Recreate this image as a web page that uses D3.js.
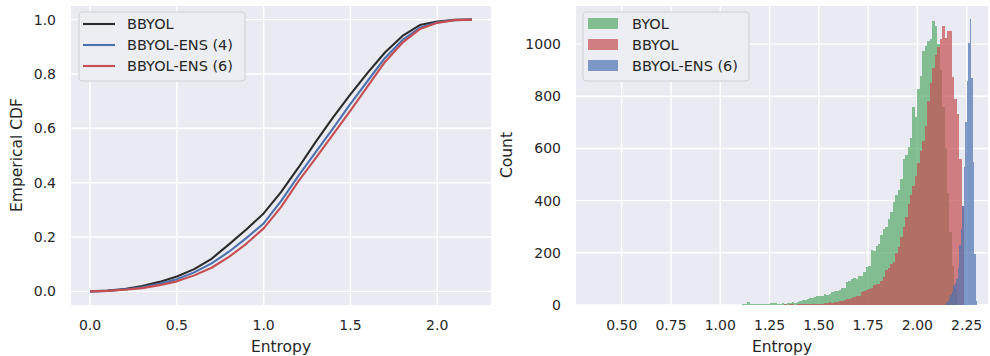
<!DOCTYPE html>
<html>
<head>
<meta charset="utf-8">
<script src="https://cdn.jsdelivr.net/npm/d3@7"></script>
<style>
  body { margin: 0; background: #fff; }
  text { font-family: "DejaVu Sans", sans-serif; fill: #262626; }
</style>
</head>
<body>
<div id="chart"></div>
<script>
const width = 990;
const height = 356;

// ---- CDF panel data ----
const cdfEntropy = [0, 0.1, 0.2, 0.3, 0.4, 0.5, 0.6, 0.7, 0.8, 0.9, 1.0, 1.1,
  1.2, 1.3, 1.4, 1.5, 1.6, 1.7, 1.8, 1.9, 2.0, 2.1, 2.2];
const cdfBBYOL = [0, 0.003, 0.009, 0.02, 0.035, 0.055, 0.082, 0.12, 0.173, 0.228,
  0.287, 0.365, 0.455, 0.55, 0.64, 0.725, 0.805, 0.88, 0.94, 0.98, 0.993, 0.999, 1.0];
const cdfEns4 = [0, 0.002, 0.007, 0.015, 0.028, 0.045, 0.07, 0.103, 0.146, 0.196,
  0.25, 0.332, 0.425, 0.512, 0.6, 0.69, 0.775, 0.86, 0.925, 0.97, 0.99, 0.998, 1.0];
const cdfEns6 = [0, 0.002, 0.006, 0.012, 0.023, 0.037, 0.059, 0.087, 0.127, 0.175,
  0.232, 0.31, 0.405, 0.49, 0.578, 0.665, 0.755, 0.845, 0.915, 0.965, 0.988, 0.998, 1.0];
const cdfNames = ['BBYOL', 'BBYOL-ENS (4)', 'BBYOL-ENS (6)'];
const cdfTicksX = [0.0, 0.5, 1.0, 1.5, 2.0];
const cdfTicksY = [0.0, 0.2, 0.4, 0.6, 0.8, 1.0];

// ---- histogram panel data (bin start, bin width, counts) ----
const byolStart = 1.1, byolWidth = 0.0125;
const byolCounts = [0, 4, 2, 10, 3, 5, 5, 4, 5, 4, 5, 3, 6, 8, 7, 5, 4, 6, 5, 9,
  8, 10, 9, 11, 17, 19, 20, 24, 26, 25, 30, 33, 36, 36, 42, 40, 44, 50, 55, 53,
  58, 67, 65, 88, 92, 100, 104, 98, 112, 110, 125, 145, 150, 212, 208, 225, 232, 268, 292, 298,
  330, 355, 395, 420, 440, 483, 560, 575, 604, 640, 757, 719, 828, 879, 974, 993, 1013, 1019, 1089, 1070,
  1000, 900, 760, 600, 430, 280, 150, 60];
const bbyolStart = 1.3, bbyolWidth = 0.0125;
const bbyolCounts = [1, 1, 2, 1, 2, 2, 1, 2, 2, 3, 2, 3, 3, 4, 3, 4,
  4, 5, 6, 8, 10, 9, 12, 11, 15, 16, 18, 22, 24, 26, 30, 33, 36, 48, 52, 57, 62, 67, 78, 82,
  80, 92, 108, 135, 142, 157, 163, 200, 222, 259, 300, 336, 387, 420, 455, 495, 546, 590, 630, 687,
  783, 850, 910, 960, 990, 1019, 1070, 1025, 1051, 1051, 872, 789, 732, 560, 380];
const ensStart = 2.145, ensWidth = 0.0075;
const ensCounts = [8, 15, 25, 40, 50, 75, 85, 100, 140, 230, 290, 380, 530, 700, 860,
  1005, 1096, 870, 550, 195, 16];
const histNames = ['BYOL', 'BBYOL', 'BBYOL-ENS (6)'];
const histTicksX = [0.5, 0.75, 1.0, 1.25, 1.5, 1.75, 2.0, 2.25];
const histTicksY = [0, 200, 400, 600, 800, 1000];

const black = '#2b2b2b', blue = '#4C72B0', red = '#C44E52', green = '#55A868';
const bg = '#EAEAF2';

const svg = d3.select('#chart').append('svg')
  .attr('width', width).attr('height', height);

// shared helper: grey background + white grid + tick labels
const drawFrame = (g, x, y, xTicks, yTicks, xFmt, yFmt) => {
  const [x0, x1] = x.range();
  const [y1, y0] = y.range();
  g.append('rect').attr('x', x0).attr('y', y0)
    .attr('width', x1 - x0).attr('height', y1 - y0).attr('fill', bg);
  g.selectAll('.vgrid').data(xTicks).enter().append('line')
    .attr('x1', (d) => x(d)).attr('x2', (d) => x(d))
    .attr('y1', y0).attr('y2', y1)
    .attr('stroke', '#fff').attr('stroke-width', 1.4);
  g.selectAll('.hgrid').data(yTicks).enter().append('line')
    .attr('x1', x0).attr('x2', x1)
    .attr('y1', (d) => y(d)).attr('y2', (d) => y(d))
    .attr('stroke', '#fff').attr('stroke-width', 1.4);
  g.selectAll('.xt').data(xTicks).enter().append('text')
    .attr('x', (d) => x(d)).attr('y', y1 + 25)
    .attr('text-anchor', 'middle').style('font-size', '14px')
    .text(xFmt);
  g.selectAll('.yt').data(yTicks).enter().append('text')
    .attr('x', x0 - 15).attr('y', (d) => y(d) + 5)
    .attr('text-anchor', 'end').style('font-size', '14px')
    .text(yFmt);
};

// ---- left: empirical CDF ----
const xL = d3.scaleLinear().domain([-0.11, 2.31]).range([71, 491]);
const yL = d3.scaleLinear().domain([-0.05, 1.05]).range([305, 6]);
const left = svg.append('g');
drawFrame(left, xL, yL, cdfTicksX, cdfTicksY, d3.format('.1f'), d3.format('.1f'));

const line = d3.line().x((d) => xL(d[0])).y((d) => yL(d[1]));
const cdfSeries = [
  { name: cdfNames[0], color: black, values: cdfBBYOL },
  { name: cdfNames[1], color: blue, values: cdfEns4 },
  { name: cdfNames[2], color: red, values: cdfEns6 },
];
left.selectAll('.cdf').data(cdfSeries).enter().append('path')
  .attr('d', (s) => line(cdfEntropy.map((e, i) => [e, s.values[i]])))
  .attr('fill', 'none').attr('stroke', (s) => s.color)
  .attr('stroke-width', 2.1).attr('stroke-linejoin', 'round');

left.append('text').attr('x', xL(1.1)).attr('y', 352)
  .attr('text-anchor', 'middle').style('font-size', '15.5px').text('Entropy');
left.append('text').attr('transform', 'translate(22,155) rotate(-90)')
  .attr('text-anchor', 'middle').style('font-size', '15.5px').text('Emperical CDF');

// legend
const legL = left.append('g').attr('transform', 'translate(79,12)');
legL.append('rect').attr('width', 166).attr('height', 69).attr('rx', 3)
  .attr('fill', '#EDEDF4').attr('stroke', '#cfcfd6');
cdfSeries.forEach((s, i) => {
  legL.append('line').attr('x1', 4).attr('x2', 36)
    .attr('y1', 12 + i * 21).attr('y2', 12 + i * 21)
    .attr('stroke', s.color).attr('stroke-width', 2.1);
  legL.append('text').attr('x', 48).attr('y', 17 + i * 21)
    .style('font-size', '14.5px').text(s.name);
});

// ---- right: histogram ----
const xR = d3.scaleLinear().domain([0.268, 2.358]).range([576, 988]);
const yR = d3.scaleLinear().domain([0, 1146]).range([305, 6]);
const right = svg.append('g');
drawFrame(right, xR, yR, histTicksX, histTicksY, d3.format('.2f'), d3.format('d'));

const histSeries = [
  { name: histNames[0], color: green, start: byolStart, w: byolWidth, counts: byolCounts },
  { name: histNames[1], color: red, start: bbyolStart, w: bbyolWidth, counts: bbyolCounts },
  { name: histNames[2], color: blue, start: ensStart, w: ensWidth, counts: ensCounts },
];
histSeries.forEach((s) => {
  right.append('g').selectAll('rect')
    .data(s.counts.map((c, i) => ({ x0: s.start + i * s.w, x1: s.start + (i + 1) * s.w, c })))
    .enter().append('rect')
    .attr('x', (d) => xR(d.x0))
    .attr('width', (d) => xR(d.x1) - xR(d.x0))
    .attr('y', (d) => yR(d.c))
    .attr('height', (d) => yR(0) - yR(d.c))
    .attr('fill', s.color).attr('fill-opacity', 0.7)
    .attr('shape-rendering', 'crispEdges');
});

right.append('text').attr('x', 782).attr('y', 352)
  .attr('text-anchor', 'middle').style('font-size', '15.5px').text('Entropy');
right.append('text').attr('transform', 'translate(512,155) rotate(-90)')
  .attr('text-anchor', 'middle').style('font-size', '15.5px').text('Count');

const legR = right.append('g').attr('transform', 'translate(583,12)');
legR.append('rect').attr('width', 166).attr('height', 69).attr('rx', 3)
  .attr('fill', '#EDEDF4').attr('stroke', '#cfcfd6');
histSeries.forEach((s, i) => {
  legR.append('rect').attr('x', 5).attr('y', 6 + i * 21)
    .attr('width', 30).attr('height', 11)
    .attr('fill', s.color).attr('fill-opacity', 0.7);
  legR.append('text').attr('x', 49).attr('y', 17 + i * 21)
    .style('font-size', '14.5px').text(s.name);
});
</script>
</body>
</html>
